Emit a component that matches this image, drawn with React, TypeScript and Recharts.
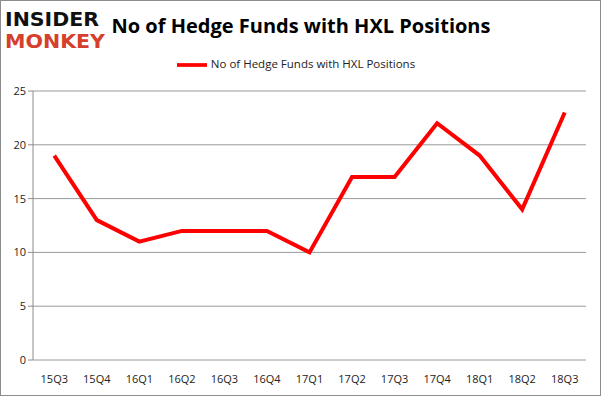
import React from 'react';
import { LineChart, Line, XAxis, YAxis, CartesianGrid, Legend } from 'recharts';

const quarters = ['15Q3', '15Q4', '16Q1', '16Q2', '16Q3', '16Q4', '17Q1', '17Q2', '17Q3', '17Q4', '18Q1', '18Q2', '18Q3'];
const funds = [19, 13, 11, 12, 12, 12, 10, 17, 17, 22, 19, 14, 23];
const yTicks = [0, 5, 10, 15, 20, 25];
const seriesName = 'No of Hedge Funds with HXL Positions';
const title = 'No of Hedge Funds with HXL Positions';

const data = quarters.map((q, i) => ({ pos: i, q, value: funds[i] }));
const markTicks = quarters.map((_, i) => i - 0.5).concat([quarters.length - 0.5]);
const labelTicks = quarters.map((_, i) => i);

const font = '"Open Sans", "Noto Sans", sans-serif';

export default function App() {
  return (
    <div style={{ position: 'absolute', left: 0, top: 0, width: 601, height: 396, background: '#fff' }}>
      <div style={{ position: 'absolute', left: 0, top: 0, width: 601, height: 396, boxSizing: 'border-box', border: '1px solid #8c8c8c' }} />
      <svg style={{ position: 'absolute', left: 0, top: 0 }} width={601} height={60}>
        <text x={5} y={26} fontFamily='"DejaVu Sans", sans-serif' fontWeight={900} fontSize={19} fill="#111" textLength={94} lengthAdjust="spacingAndGlyphs">INSIDER</text>
        <text x={5} y={48} fontFamily='"DejaVu Sans", sans-serif' fontWeight={900} fontSize={19} fill="#d4402b" textLength={100} lengthAdjust="spacingAndGlyphs">MONKEY</text>
        <text x={301} y={33} textAnchor="middle" fontFamily={font} fontWeight={700} fontSize={20} fill="#000">{title}</text>
      </svg>
      <LineChart width={601} height={396} data={data} margin={{ top: 61, right: 15, bottom: 10, left: 0 }} style={{ position: 'absolute', left: 0, top: 0 }}>
        <CartesianGrid horizontal vertical={false} stroke="#9a9a9a" />
        <XAxis xAxisId="marks" type="number" dataKey="pos" domain={[-0.5, quarters.length - 0.5]} ticks={markTicks} tick={false} height={0} stroke="#8c8c8c" tickSize={5} interval={0} allowDataOverflow />
        <XAxis xAxisId="labels" type="number" dataKey="pos" domain={[-0.5, quarters.length - 0.5]} ticks={labelTicks} interval={0} axisLine={false} tickLine={false} height={26} tickFormatter={(v: number) => quarters[v]} tick={{ fontFamily: font, fontSize: 11, fill: '#222' }} tickMargin={9} allowDataOverflow />
        <YAxis domain={[0, 25]} ticks={yTicks} width={33} stroke="#8c8c8c" tickSize={5} tick={{ fontFamily: font, fontSize: 11, fill: '#222' }} interval={0} />
        <Legend verticalAlign="top" align="center" wrapperStyle={{ top: 50, left: 8, fontFamily: font, fontSize: 11.5 }} iconType="plainline" iconSize={30} formatter={(v: string) => <span style={{ color: '#222' }}>{v}</span>} />
        <Line xAxisId="marks" type="linear" dataKey="value" name={seriesName} stroke="#ff0000" strokeWidth={4} dot={false} isAnimationActive={false} />
      </LineChart>
    </div>
  );
}
